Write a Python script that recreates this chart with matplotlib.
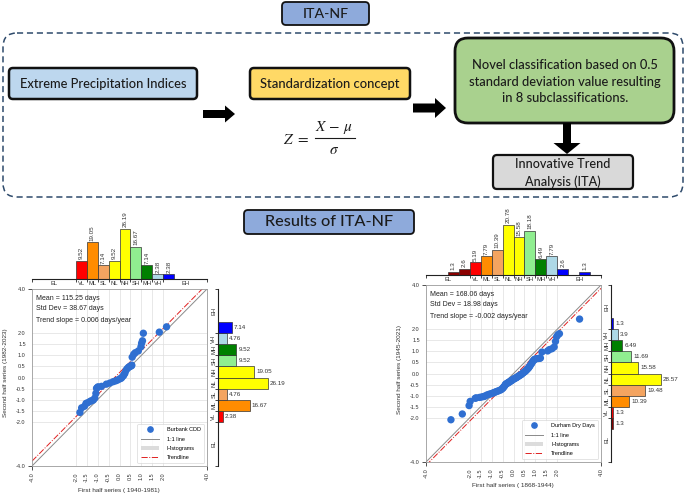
import matplotlib
matplotlib.use('Agg')
import matplotlib.pyplot as plt
from matplotlib.patches import FancyBboxPatch, FancyArrow, Patch
from matplotlib.lines import Line2D

plt.rcParams['font.family'] = ['Liberation Sans', 'DejaVu Sans']
plt.rcParams['mathtext.fontset'] = 'stix'

# ---------------- data ----------------
class_edges = [-4, -2, -1.5, -1, -0.5, 0, 0.5, 1, 1.5, 2, 4]
class_labels = ['EL', 'VL', 'ML', 'SL', 'NL', 'NH', 'SH', 'MH', 'VH', 'EH']
inner_ticks = [-2.0, -1.5, -1.0, -0.5, 0.0, 0.5, 1.0, 1.5, 2.0]

# Burbank CDD (left panel)
burbank_first = [-1.81, -1.73, -1.60, -1.53,
                 -1.45, -1.35, -1.28, -1.20, -1.13, -1.08, -1.05, -1.02,
                 -0.98, -0.82, -0.60,
                 -0.44, -0.29, -0.17, -0.08,
                 0.02, 0.08, 0.12, 0.18, 0.21, 0.25, 0.30, 0.35, 0.41, 0.45, 0.49,
                 0.55, 0.56, 0.58, 0.65, 0.72, 0.86, 0.98,
                 1.01, 1.05, 1.09,
                 1.82,
                 2.15]
burbank_second = [-1.58,
                  -1.37, -1.30, -1.17, -1.14, -1.08, -1.05, -1.02,
                  -0.93, -0.72,
                  -0.49, -0.46, -0.42, -0.40, -0.30, -0.25, -0.19, -0.15, -0.11, -0.06, -0.03,
                  0.02, 0.08, 0.14, 0.20, 0.33, 0.40, 0.46, 0.48,
                  0.51, 0.53, 0.56, 0.92,
                  1.05, 1.12, 1.20, 1.39,
                  1.55, 1.66,
                  2.00, 2.05, 2.29]
burbank_top_starts = [-2, -1.5, -1, -0.5, 0, 0.5, 1, 1.5, 2]
burbank_top_pct = [9.52, 19.05, 7.14, 9.52, 26.19, 16.67, 7.14, 2.38, 2.38]
burbank_top_colors = ['red', 'darkorange', 'sandybrown', 'yellow', 'yellow',
                      'lightgreen', 'green', 'lightblue', 'blue']
burbank_side_starts = [-2, -1.5, -1, -0.5, 0, 0.5, 1, 1.5, 2]
burbank_side_pct = [2.38, 16.67, 4.76, 26.19, 19.05, 9.52, 9.52, 4.76, 7.14]
burbank_side_colors = ['red', 'darkorange', 'sandybrown', 'yellow', 'yellow',
                       'lightgreen', 'green', 'lightblue', 'blue']
burbank_stats = ['Mean = 115.25 days', 'Std Dev = 38.67 days', 'Trend slope = 0.006 days/year']
burbank_trend = (1.0, 0.22)

# Durham Dry Days (right panel)
durham_first = [-2.86,
                -2.34, -2.03,
                -1.98, -1.75, -1.70, -1.55,
                -1.45, -1.36, -1.30, -1.21, -1.12, -1.04,
                -0.98, -0.91, -0.86, -0.79, -0.73, -0.66, -0.58, -0.53,
                -0.48, -0.46, -0.41, -0.38, -0.36, -0.31, -0.28, -0.26, -0.21, -0.19,
                -0.15, -0.13, -0.10, -0.06, -0.04, -0.01,
                0.03, 0.06, 0.11, 0.14, 0.19, 0.22, 0.27, 0.30, 0.35, 0.38, 0.43, 0.47,
                0.51, 0.55, 0.57, 0.61, 0.63, 0.68, 0.70, 0.74, 0.77, 0.83, 0.86, 0.91, 0.94, 0.98,
                1.05, 1.13, 1.20, 1.23, 1.30,
                1.56, 1.64, 1.76, 1.86, 1.92, 1.97,
                2.03, 2.10,
                3.02]
durham_second = [-2.09,
                 -1.83,
                 -1.45, -1.26, -1.12, -1.10, -1.08, -1.06, -1.04, -1.02,
                 -0.97, -0.94, -0.92, -0.90, -0.87, -0.85, -0.82, -0.80, -0.77, -0.74,
                 -0.70, -0.66, -0.62, -0.57, -0.52,
                 -0.48, -0.46, -0.44, -0.42, -0.40, -0.38, -0.36, -0.34, -0.32, -0.30, -0.28,
                 -0.26, -0.24, -0.22, -0.20, -0.18, -0.15, -0.12, -0.10, -0.07, -0.05, -0.02,
                 0.02, 0.05, 0.08, 0.11, 0.14, 0.17, 0.20, 0.24, 0.28, 0.32, 0.38, 0.45,
                 0.52, 0.58, 0.62, 0.65, 0.67, 0.68, 0.69, 0.70, 0.97,
                 1.02, 1.08, 1.12, 1.20, 1.45,
                 1.66, 1.75, 1.80,
                 2.46]
durham_top_starts = [-3, -2.5, -2, -1.5, -1, -0.5, 0, 0.5, 1, 1.5, 2, 3]
durham_top_pct = [1.3, 2.6, 5.19, 7.79, 10.39, 20.78, 15.58, 18.18, 6.49, 7.79, 2.6, 1.3]
durham_top_colors = ['darkred', 'darkred', 'red', 'darkorange', 'sandybrown', 'yellow', 'yellow',
                     'lightgreen', 'green', 'lightblue', 'blue', 'blue']
durham_side_starts = [-2.5, -2, -1.5, -1, -0.5, 0, 0.5, 1, 1.5, 2]
durham_side_pct = [1.3, 1.3, 10.39, 19.48, 28.57, 15.58, 11.69, 6.49, 3.9, 1.3]
durham_side_colors = ['darkred', 'red', 'darkorange', 'sandybrown', 'yellow', 'yellow',
                      'lightgreen', 'green', 'lightblue', 'blue']
durham_stats = ['Mean = 168.06 days', 'Std Dev = 18.98 days', 'Trend slope = -0.002 days/year']
durham_trend = (1.0, -0.15)

# ---------------- figure ----------------
W, H = 685, 496
fig = plt.figure(figsize=(W / 100, H / 100), dpi=100)
renderer = fig.canvas.get_renderer()


def rect(x0, y0, x1, y1):
    return [x0 / W, 1 - y1 / H, (x1 - x0) / W, (y1 - y0) / H]


def P(x, y):
    return (x / W, 1 - y / H)


# ---- diagram layer ----
bg = fig.add_axes([0, 0, 1, 1])
bg.set_xlim(0, W)
bg.set_ylim(H, 0)
bg.axis('off')

DIAG_FONT = ['Lato', 'DejaVu Sans']
TXT = '#1b1b1b'


def box(x, y, w, h, fc, lw=1.6, r=4, ec='#111111', ls='-'):
    p = FancyBboxPatch((x, y), w, h, boxstyle=f'round,pad=0,rounding_size={r}',
                       fc=fc, ec=ec, lw=lw, ls=ls)
    bg.add_patch(p)


def fit_texts(items, target):
    """items: list of (x, y, string); fit widest string to target px width."""
    ts = [bg.text(x, y, s, ha='center', va='center', fontsize=10, family=DIAG_FONT,
                  color=TXT, fontweight='medium')
          for x, y, s in items]
    for _ in range(3):
        wmax = max(t.get_window_extent(renderer).width for t in ts)
        fs = ts[0].get_fontsize() * target / wmax
        for t in ts:
            t.set_fontsize(fs)
    return ts


# dashed container
box(3, 33, 680, 164, 'none', lw=1.1, r=14, ec='#2e4a6b', ls=(0, (4, 2.5)))
# ITA-NF title
box(282, 2, 87, 23, '#8eaadb', lw=1.3, r=4)
fit_texts([(325.5, 13.5, 'ITA-NF')], 46)
# Extreme Precipitation Indices
box(9, 68, 188, 31, '#bdd7ee', lw=1.8, r=4)
fit_texts([(103, 84, 'Extreme Precipitation Indices')], 166)
# Standardization concept
box(250, 68, 160, 31, '#ffd966', lw=1.8, r=4)
fit_texts([(330, 84, 'Standardization concept')], 139)
# green box
box(455, 38, 219, 85, '#a9d18e', lw=2.0, r=13)
fit_texts([(565, 65, 'Novel classification based on 0.5'),
           (565, 82, 'standard deviation value resulting'),
           (565, 98, 'in 8 subclassifications.')], 194)
# gray box
box(493, 155, 140, 34, '#d9d9d9', lw=1.6, r=4)
fit_texts([(563, 164.5, 'Innovative Trend'), (563, 181.5, 'Analysis (ITA)')], 95)
# Results box
box(244, 210, 170, 24, '#8eaadb', lw=1.3, r=4)
fit_texts([(329, 222, 'Results of ITA-NF')], 127)

# arrows
bg.add_patch(FancyArrow(203, 114, 32, 0, width=8, head_width=17, head_length=10,
                        length_includes_head=True, color='black', lw=0))
bg.add_patch(FancyArrow(413, 108, 33, 0, width=9, head_width=20, head_length=11,
                        length_includes_head=True, color='black', lw=0))
bg.add_patch(FancyArrow(567, 123, 0, 31, width=8, head_width=27, head_length=11,
                        length_includes_head=True, color='black', lw=0))

# formula
bg.text(296, 140, r'$Z\ =$', ha='center', va='center', fontsize=11, color=TXT)
bg.text(334, 128, r'$X\,-\,\mu$', ha='center', va='center', fontsize=11, color=TXT)
bg.plot([315, 355], [137.5, 137.5], color=TXT, lw=0.8)
bg.text(334, 150, r'$\sigma$', ha='center', va='center', fontsize=11, color=TXT)

# ---------------- ITA panels ----------------
BLUE = '#2f6fd1'
class_mids = [(a + b) / 2 for a, b in zip(class_edges[:-1], class_edges[1:])]


def ita_panel(main_px, top_px, side_px, xs, ys, tstarts, tvals, tcols, sstarts, svals, scols,
              stats, trend, legend_label, xlabel, xlabel_px, ylabel, ylabel_px):
    # top histogram with class axis
    at = fig.add_axes(rect(*top_px))
    at.patch.set_alpha(0)
    at.bar(tstarts, tvals, width=0.5, align='edge', color=tcols, edgecolor='#333333', linewidth=0.5)
    for s, v in zip(tstarts, tvals):
        at.annotate(f'{v:g}', (s + 0.25, v), xytext=(0, 1), textcoords='offset points',
                    rotation=90, ha='center', va='bottom', fontsize=4.5, color='#333333')
    at.set_xlim(-4, 4)
    at.set_ylim(0, max(tvals) * 1.09)
    for sp in ['top', 'right', 'left']:
        at.spines[sp].set_visible(False)
    at.spines['bottom'].set_linewidth(0.8)
    at.spines['bottom'].set_color('#222222')
    at.set_yticks([])
    at.set_xticks(class_edges)
    at.set_xticklabels([])
    at.tick_params(axis='x', which='major', direction='out', length=2.5, width=0.6, color='#222222')
    at.set_xticks(class_mids, minor=True)
    at.set_xticklabels(class_labels, minor=True, fontsize=4.2, color='#333333')
    at.tick_params(axis='x', which='minor', length=0, pad=1.2)

    # side histogram with class axis
    asd = fig.add_axes(rect(*side_px))
    asd.patch.set_alpha(0)
    asd.barh(sstarts, svals, height=0.5, align='edge', color=scols, edgecolor='#333333', linewidth=0.5)
    for s, v in zip(sstarts, svals):
        asd.annotate(f'{v:g}', (v, s + 0.25), xytext=(1.5, 0), textcoords='offset points',
                     ha='left', va='center', fontsize=4.5, color='#333333')
    asd.set_ylim(-4, 4)
    asd.set_xlim(0, max(svals) * 1.1)
    for sp in ['top', 'right', 'bottom']:
        asd.spines[sp].set_visible(False)
    asd.spines['left'].set_linewidth(0.8)
    asd.spines['left'].set_color('#222222')
    asd.set_xticks([])
    asd.set_yticks(class_edges)
    asd.set_yticklabels([])
    asd.tick_params(axis='y', which='major', direction='out', length=2.5, width=0.6, color='#222222')
    asd.set_yticks(class_mids, minor=True)
    asd.set_yticklabels(class_labels, minor=True, fontsize=4.2, rotation=90, va='center',
                        color='#333333')
    asd.tick_params(axis='y', which='minor', length=0, pad=1.2)

    # main scatter
    ax = fig.add_axes(rect(*main_px))
    ax.set_xlim(-4, 4)
    ax.set_ylim(-4, 4)
    ax.set_xticks([-4, 4])
    ax.set_xticklabels(['-4.0', '4.0'], rotation=90)
    ax.set_xticks(inner_ticks, minor=True)
    ax.set_xticklabels([f'{v:.1f}' for v in inner_ticks], minor=True, rotation=90)
    ax.set_yticks([-4, 4])
    ax.set_yticklabels(['-4.0', '4.0'])
    ax.set_yticks(inner_ticks, minor=True)
    ax.set_yticklabels([f'{v:.1f}' for v in inner_ticks], minor=True)
    ax.tick_params(which='major', length=3, width=0.6, labelsize=4, pad=1.5, color='#333333',
                   labelcolor='#333333')
    ax.tick_params(which='minor', length=0, labelsize=4, pad=4.5, labelcolor='#333333')
    ax.grid(which='minor', color='#dedede', lw=0.5)
    for sp in ax.spines.values():
        sp.set_color('#9a9a9a')
        sp.set_linewidth(0.6)
    ax.plot([-4, 4], [-4, 4], color='#8a8a8a', lw=0.7, zorder=2)
    m, c = trend
    ax.plot([-4, 4], [m * -4 + c, m * 4 + c], color='#e02020', lw=0.7, ls='-.', zorder=2)
    ax.scatter(xs, ys, s=28, color=BLUE, edgecolors='none', zorder=3)
    handles = [Line2D([], [], marker='o', ls='', color=BLUE, markersize=3.8),
               Line2D([], [], color='#8a8a8a', lw=0.7),
               Patch(facecolor='#dcdcdc', edgecolor='none'),
               Line2D([], [], color='#e02020', lw=0.7, ls='-.')]
    leg = ax.legend(handles, [legend_label, '1:1 line', 'Histograms', 'Trendline'],
                    loc='lower right', fontsize=4, frameon=True, borderpad=0.6,
                    handlelength=3.2, labelspacing=0.75, handletextpad=1.5,
                    borderaxespad=0.5, fancybox=True)
    leg.get_frame().set_edgecolor('#d0d0d0')
    leg.get_frame().set_linewidth(0.5)
    for i, s in enumerate(stats):
        ax.text(4 / 175, 1 - (9 + 11 * i) / 177, s, transform=ax.transAxes,
                ha='left', va='center', fontsize=5, color='#222222')
    fig.text(*P(*xlabel_px), xlabel, ha='center', va='center', fontsize=4.6, color='#333333')
    fig.text(*P(*ylabel_px), ylabel, ha='center', va='center', fontsize=4.6, rotation=90,
             color='#333333')


ita_panel((32, 289, 207, 466), (32, 224, 207, 279), (218, 289, 273, 466),
          burbank_first, burbank_second,
          burbank_top_starts, burbank_top_pct, burbank_top_colors,
          burbank_side_starts, burbank_side_pct, burbank_side_colors,
          burbank_stats, burbank_trend, 'Burbank CDD',
          'First half series ( 1940-1981)', (119, 490.5),
          'Second half series (1982-2023)', (6, 373))

ita_panel((426, 285, 601, 462), (426, 220, 601, 275), (611, 285, 666, 462),
          durham_first, durham_second,
          durham_top_starts, durham_top_pct, durham_top_colors,
          durham_side_starts, durham_side_pct, durham_side_colors,
          durham_stats, durham_trend, 'Durham Dry Days',
          'First half series ( 1868-1944)', (513, 486),
          'Second half series (1945-2021)', (400, 370))

fig.savefig('out.png', dpi=100)
